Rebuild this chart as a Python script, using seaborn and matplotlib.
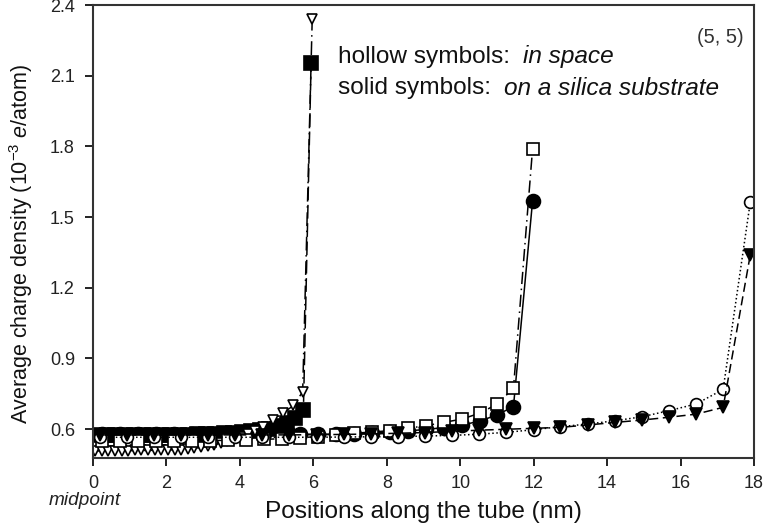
import numpy as np
import pandas as pd
import matplotlib
matplotlib.use("Agg")
import matplotlib.pyplot as plt
import seaborn as sns

# short tube (ends ~6 nm)
short_space_x = [0.06, 0.24, 0.42, 0.60, 0.78, 0.96, 1.14, 1.32, 1.50, 1.68, 1.86, 2.04, 2.22, 2.40, 2.58, 2.76,
                 2.94, 3.12, 3.30, 3.48, 3.66, 3.84, 4.02, 4.22, 4.42, 4.64, 4.90, 5.18, 5.46, 5.71, 5.97]
short_space_y = [0.507, 0.507, 0.508, 0.508, 0.508, 0.508, 0.509, 0.509, 0.509, 0.510, 0.510, 0.511, 0.512, 0.513,
                 0.515, 0.518, 0.522, 0.527, 0.533, 0.540, 0.548, 0.556, 0.566, 0.578, 0.592, 0.610, 0.640, 0.668,
                 0.700, 0.758, 2.34]
short_sub_x = [0.12, 0.37, 0.61, 0.86, 1.11, 1.35, 1.60, 1.84, 2.09, 2.34, 2.58, 2.83, 3.07, 3.32, 3.57, 3.81,
               4.06, 4.30, 4.55, 4.80, 5.04, 5.29, 5.49, 5.73, 5.94]
short_sub_y = [0.575, 0.575, 0.575, 0.575, 0.575, 0.575, 0.575, 0.575, 0.575, 0.576, 0.576, 0.577, 0.578, 0.579,
               0.581, 0.583, 0.586, 0.590, 0.595, 0.602, 0.612, 0.625, 0.645, 0.681, 2.153]

# medium tube (ends ~12 nm)
mid_x = [0.24, 0.73, 1.22, 1.71, 2.20, 2.69, 3.18, 3.67, 4.16, 4.65, 5.14, 5.63, 6.12, 6.61, 7.10, 7.59,
         8.08, 8.57, 9.06, 9.55, 10.04, 10.53, 11.00, 11.45, 11.97]
mid_space_y = [0.549, 0.549, 0.549, 0.549, 0.550, 0.550, 0.551, 0.552, 0.554, 0.556, 0.559, 0.563, 0.568, 0.575,
               0.582, 0.587, 0.593, 0.603, 0.614, 0.628, 0.642, 0.667, 0.705, 0.773, 1.788]
mid_sub_y = [0.578, 0.578, 0.578, 0.578, 0.578, 0.578, 0.578, 0.578, 0.578, 0.578, 0.578, 0.578, 0.578, 0.578,
             0.580, 0.583, 0.587, 0.592, 0.598, 0.606, 0.617, 0.633, 0.660, 0.695, 1.567]

# long tube (ends ~18 nm)
long_x = [0.18, 0.92, 1.66, 2.40, 3.13, 3.87, 4.61, 5.35, 6.09, 6.83, 7.57, 8.30, 9.04, 9.78, 10.52, 11.26,
          12.00, 12.73, 13.47, 14.21, 14.95, 15.69, 16.42, 17.16, 17.90]
long_space_y = [0.565, 0.565, 0.565, 0.565, 0.565, 0.565, 0.565, 0.565, 0.565, 0.566, 0.567, 0.568, 0.570, 0.573,
                0.578, 0.586, 0.597, 0.610, 0.621, 0.635, 0.652, 0.678, 0.706, 0.768, 1.564]
long_sub_y = [0.575, 0.575, 0.575, 0.575, 0.575, 0.575, 0.575, 0.575, 0.576, 0.577, 0.579, 0.582, 0.585, 0.590,
              0.595, 0.599, 0.603, 0.607, 0.617, 0.628, 0.638, 0.650, 0.663, 0.692, 1.340]

sns.set_style("ticks")
plt.rcParams['font.family'] = ['Liberation Sans', 'DejaVu Sans']
plt.rcParams['mathtext.fontset'] = 'custom'
plt.rcParams['mathtext.rm'] = 'Liberation Sans'
plt.rcParams['mathtext.it'] = 'Liberation Sans:italic'

fig = plt.figure(figsize=(7.66, 5.28), dpi=100)
ax = fig.add_axes([0.1214, 0.1326, 0.8629, 0.8579])

series = [
    # x, y, marker, face, style, size
    (short_sub_x, short_sub_y, 's', 'black', (0, (9, 3)), 9.5),
    (mid_x, mid_sub_y, 'o', 'black', '-', 10),
    (short_space_x, short_space_y, 'v', 'white', (0, (9, 3, 1, 3)), 7.5),
    (mid_x, mid_space_y, 's', 'white', (0, (8, 3, 1, 3)), 9),
    (long_x, long_space_y, 'o', 'white', ':', 8.5),
    (long_x, long_sub_y, 'v', 'black', (0, (6, 3)), 8.5),
]
for xs, ys, mk, fc, ls, ms in series:
    sns.lineplot(x=xs, y=ys, ax=ax, sort=False, estimator=None, color='black', linewidth=1.1,
                 linestyle=ls, marker=mk, markersize=ms, markerfacecolor=fc,
                 markeredgecolor='black', markeredgewidth=1.2)

ax.set_xlim(0, 18)
ax.set_ylim(0.477, 2.4)
ax.set_xticks([0, 2, 4, 6, 8, 10, 12, 14, 16, 18])
ax.set_yticks([0.6, 0.9, 1.2, 1.5, 1.8, 2.1, 2.4])
ax.set_yticklabels(['0.6', '0.9', '1.2', '1.5', '1.8', '2.1', '2.4'])
ax.tick_params(direction='out', length=6, width=1.4, labelsize=13, colors='#222222',
               bottom=True, left=True, top=False, right=False)
ax.tick_params(axis='x', pad=6)
ax.tick_params(axis='y', pad=7)
for s in ax.spines.values():
    s.set_linewidth(1.5)
    s.set_color('#333333')

ax.set_xlabel('Positions along the tube (nm)', fontsize=17.6, labelpad=7, color='#111111')
ax.set_ylabel('Average charge density (10$^{-3}$ $\\it{e}$/atom)', fontsize=15.5, color='#111111')
ax.yaxis.set_label_coords(-0.087, 0.472)

# legend-like annotation: normal text followed by italic text
fig.canvas.draw()
renderer = fig.canvas.get_renderer()
inv = ax.transAxes.inverted()
for ypos, plain, ital in [(0.886, 'hollow symbols:', 'in space'),
                          (0.816, 'solid symbols:', 'on a silica substrate')]:
    t = ax.text(0.371, ypos, plain, transform=ax.transAxes, fontsize=17.6, va='center', color='#111111')
    bb = t.get_window_extent(renderer=renderer)
    x_end = inv.transform((bb.x1 + 13, bb.y0))[0]
    ax.text(x_end, ypos, ital, transform=ax.transAxes, fontsize=17.6, va='center', style='italic',
            color='#111111')

ax.text(0.985, 0.929, '(5, 5)', transform=ax.transAxes, fontsize=14.5, va='center', ha='right',
        color='#333333')
ax.text(-0.012, -0.093, 'midpoint', transform=ax.transAxes, fontsize=13.7, va='center', ha='center',
        style='italic', color='#222222')

fig.savefig('out.png', dpi=100)
